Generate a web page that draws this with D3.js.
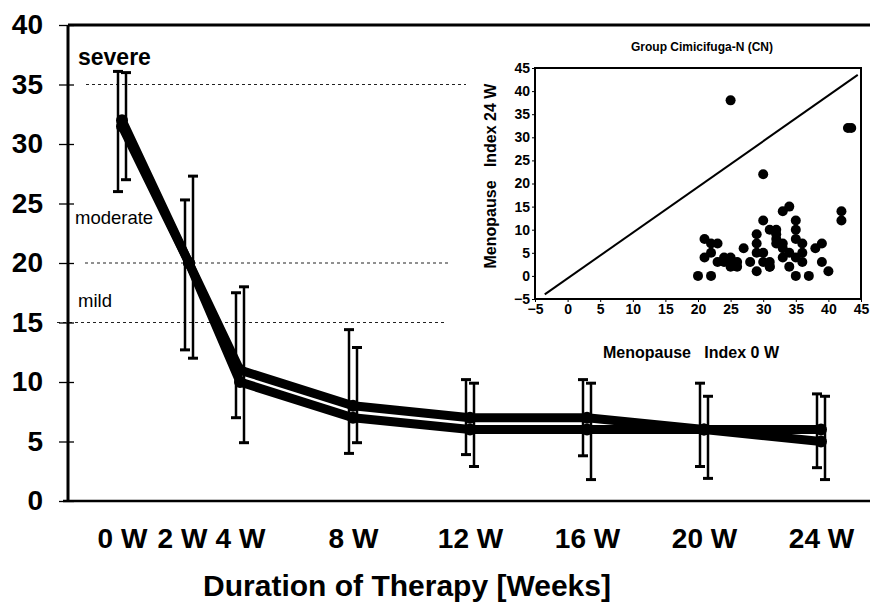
<!DOCTYPE html>
<html>
<head>
<meta charset="utf-8">
<script src="https://cdn.jsdelivr.net/npm/d3@7"></script>
<style>
    html, body { margin: 0; padding: 0; background: #fff; }
    svg { display: block; font-family: "Liberation Sans", Arial, sans-serif; }
    .dotted { stroke: #222; stroke-width: 1.2; stroke-dasharray: 3,3; fill: none; }
    .level { fill: #000; }
</style>
</head>
<body>
<svg id="chart" width="870" height="603"></svg>
<script>
"use strict";

// Menopause index over therapy duration, two groups
const weeks = [0, 2, 4, 8, 12, 16, 20, 24];
const weekLabels = ["0 W", "2 W", "4 W", "8 W", "12 W", "16 W", "20 W", "24 W"];

const meanA = [31.5, 20, 11, 8, 7, 7, 6, 5];
const lowA  = [26, 12.7, 7, 4, 3.9, 3.8, 2.9, 2.8];
const highA = [36.1, 25.3, 17.5, 14.4, 10.2, 10.2, 9.9, 9];

const meanB = [32, 20, 10, 7, 6, 6, 6, 6];
const lowB  = [27, 12, 4.9, 4.9, 2.9, 1.8, 1.9, 1.8];
const highB = [36, 27.3, 18, 12.9, 9.9, 9.9, 8.8, 8.8];

const yTicks = [0, 5, 10, 15, 20, 25, 30, 35, 40];

// severity borders and their labels
const levelValues = [35, 20, 15];
const levelNames = ["severe", "moderate", "mild"];
const levelLabelValues = [36.6, 23.3, 16.3];

// inset: index at 0 W vs index at 24 W, group CN
const index0W = [25, 43, 43.5, 30, 33, 34, 42, 42, 30, 35, 35, 35, 31, 32, 29, 29, 29, 30,
    29, 31, 31, 30, 28, 27, 23, 24, 24, 25, 25, 26, 26, 25, 23, 21, 22, 21, 22, 20, 22,
    32, 32, 33, 33, 32, 33, 34, 35, 35, 36, 36, 37, 38, 39, 39, 40, 36, 31, 34];
const index24W = [38, 32, 32, 22, 14, 15, 14, 12, 12, 12, 10, 8, 10, 10, 9, 7, 5, 5,
    1, 3, 2, 3, 3, 6, 3, 3, 4, 3, 2, 2, 3, 4, 7, 8, 7, 4, 5, 0, 0,
    8, 9, 7, 6, 7, 4, 2, 4, 0, 5, 7, 0, 6, 7, 3, 1, 3, 2, 5];
const insetTicks = [-5, 0, 5, 10, 15, 20, 25, 30, 35, 40, 45];
const identityLine = [[-3.5, -4], [44.5, 43.5]];

const svg = d3.select('#chart');

// ---------- main chart ----------
const x = d3.scaleLinear()
    .domain([0, 2, 4, 8, 24])
    .range([122, 189, 240, 353, 821]);
const y = d3.scaleLinear()
    .domain([0, 40])
    .range([501, 25]);

const left = 68;
const right = 870;

// dotted severity borders
const levelSpans = [[86, 466], [85, 450], [57, 447]];
levelValues.forEach((v, i) => {
    svg.append('line')
        .attr('class', 'dotted')
        .attr('x1', levelSpans[i][0])
        .attr('x2', levelSpans[i][1])
        .attr('y1', y(v))
        .attr('y2', y(v));
});

svg.selectAll('text.level')
    .data(levelNames)
    .enter().append('text')
    .attr('class', 'level')
    .attr('x', (d, i) => i === 1 ? 75 : 78)
    .attr('y', (d, i) => y(levelLabelValues[i]))
    .style('font-size', (d, i) => i === 0 ? '23px' : '18.5px')
    .style('font-weight', (d, i) => i === 0 ? 'bold' : 'normal')
    .text(d => d);

// y axis
const yAxis = svg.append('g')
    .attr('transform', 'translate(' + left + ',0)')
    .call(d3.axisLeft(y).tickValues(yTicks).tickSize(9).tickPadding(16));
yAxis.select('.domain').remove();
yAxis.selectAll('line').attr('stroke', '#000').attr('stroke-width', 1.3).attr('x2', -9).attr('x1', 6);
yAxis.selectAll('text')
    .style('font-size', '28px')
    .style('font-weight', 'bold')
    .attr('fill', '#000');

// x axis (the 2 W label sits tight against 0 W in the original)
const xAxis = svg.append('g')
    .attr('transform', 'translate(0,' + y(0) + ')')
    .call(d3.axisBottom(x).tickValues(weeks).tickFormat((d, i) => weekLabels[i]).tickSize(0).tickPadding(27));
xAxis.select('.domain').remove();
xAxis.selectAll('text')
    .attr('dx', d => d === 2 ? -7 : 0)
    .style('font-size', '28px')
    .style('font-weight', 'bold')
    .attr('fill', '#000');

// frame lines
svg.append('line').attr('x1', left).attr('x2', left).attr('y1', y(40)).attr('y2', y(0) + 1)
    .attr('stroke', '#000').attr('stroke-width', 3);
svg.append('line').attr('x1', left - 5).attr('x2', right).attr('y1', y(0)).attr('y2', y(0))
    .attr('stroke', '#000').attr('stroke-width', 2.5);
svg.append('line').attr('x1', left).attr('x2', right).attr('y1', y(40)).attr('y2', y(40))
    .attr('stroke', '#000').attr('stroke-width', 3);

svg.append('text')
    .attr('x', 407)
    .attr('y', 596)
    .attr('text-anchor', 'middle')
    .style('font-size', '30px')
    .style('font-weight', 'bold')
    .text('Duration of Therapy [Weeks]');

// error bars, series A slightly left and B slightly right
function drawErrorBars(low, high, offset) {
    const gBars = svg.append('g').attr('stroke', '#000');
    weeks.forEach((w, i) => {
        const cx = x(w) + offset;
        gBars.append('line')
            .attr('x1', cx).attr('x2', cx)
            .attr('y1', y(high[i])).attr('y2', y(low[i]))
            .attr('stroke-width', 2.5);
        [low[i], high[i]].forEach(v => {
            gBars.append('line')
                .attr('x1', cx - 5).attr('x2', cx + 5)
                .attr('y1', y(v)).attr('y2', y(v))
                .attr('stroke-width', 3);
        });
    });
}
drawErrorBars(lowA, highA, -4);
drawErrorBars(lowB, highB, 4);

// mean lines
const line = d3.line()
    .x((d, i) => x(weeks[i]))
    .y(d => y(d));

[meanA, meanB].forEach(series => {
    svg.append('path')
        .datum(series)
        .attr('d', line)
        .attr('fill', 'none')
        .attr('stroke', '#000')
        .attr('stroke-width', 9)
        .attr('stroke-linejoin', 'round');
    svg.append('g')
        .selectAll('circle')
        .data(series)
        .enter().append('circle')
        .attr('cx', (d, i) => x(weeks[i]))
        .attr('cy', d => y(d))
        .attr('r', 6)
        .attr('fill', '#000');
});

// ---------- inset scatter ----------
const sx = d3.scaleLinear().domain([-5, 45]).range([535, 861]);
const sy = d3.scaleLinear().domain([-5, 45]).range([299, 68]);

const inset = svg.append('g');

inset.append('rect')
    .attr('x', sx(-5))
    .attr('y', sy(45))
    .attr('width', sx(45) - sx(-5))
    .attr('height', sy(-5) - sy(45))
    .attr('fill', 'none')
    .attr('stroke', '#000')
    .attr('stroke-width', 2);

const sxAxis = inset.append('g')
    .attr('transform', 'translate(0,' + sy(-5) + ')')
    .call(d3.axisBottom(sx).tickValues(insetTicks).tickSize(3).tickPadding(2));
const syAxis = inset.append('g')
    .attr('transform', 'translate(' + sx(-5) + ',0)')
    .call(d3.axisLeft(sy).tickValues(insetTicks).tickSize(3).tickPadding(2));
[sxAxis, syAxis].forEach(a => {
    a.select('.domain').remove();
    a.selectAll('line').attr('stroke', '#000');
    a.selectAll('text')
        .style('font-size', '14px')
        .style('font-weight', 'bold')
        .attr('fill', '#000');
});

inset.append('line')
    .attr('x1', sx(identityLine[0][0])).attr('y1', sy(identityLine[0][1]))
    .attr('x2', sx(identityLine[1][0])).attr('y2', sy(identityLine[1][1]))
    .attr('stroke', '#000')
    .attr('stroke-width', 2);

inset.selectAll('circle')
    .data(index0W)
    .enter().append('circle')
    .attr('cx', d => sx(d))
    .attr('cy', (d, i) => sy(index24W[i]))
    .attr('r', 5)
    .attr('fill', '#000');

inset.append('text')
    .attr('x', 702)
    .attr('y', 51)
    .attr('text-anchor', 'middle')
    .style('font-size', '12px')
    .style('font-weight', 'bold')
    .text('Group Cimicifuga-N (CN)');

inset.append('text')
    .attr('x', 691)
    .attr('y', 358)
    .attr('text-anchor', 'middle')
    .style('font-size', '16px')
    .style('font-weight', 'bold')
    .style('white-space', 'pre')
    .text('Menopause   Index 0 W');

inset.append('text')
    .attr('transform', 'translate(496,176) rotate(-90)')
    .attr('text-anchor', 'middle')
    .style('font-size', '16px')
    .style('font-weight', 'bold')
    .style('white-space', 'pre')
    .text('Menopause   Index 24 W');
</script>
</body>
</html>
